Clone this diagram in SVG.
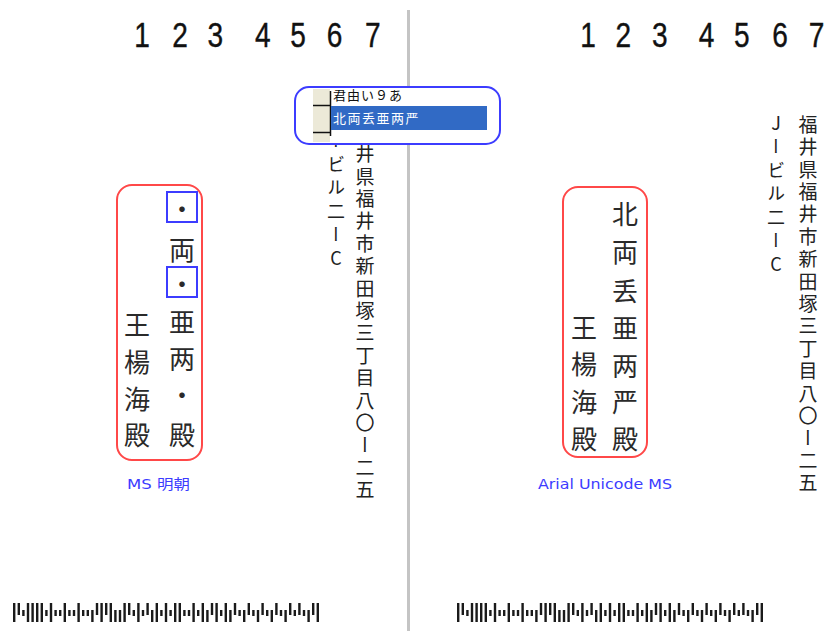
<svg xmlns="http://www.w3.org/2000/svg" xmlns:xlink="http://www.w3.org/1999/xlink" width="834" height="631" viewBox="0 0 834 631">
<style>
.num{font-family:"Liberation Sans",Arial,sans-serif;font-size:36px;fill:#111;stroke:#111;stroke-width:0.4;text-anchor:middle}
.cj{font-family:"Noto Sans CJK JP",sans-serif;font-size:26px;fill:#2a2a2a;text-anchor:middle;dominant-baseline:central}
.addr{font-family:"Noto Sans CJK JP",sans-serif;font-size:19px;fill:#222;writing-mode:vertical-rl;text-orientation:upright;letter-spacing:3.4px}
.addr2{font-family:"Noto Sans CJK JP",sans-serif;font-size:18px;fill:#222;writing-mode:vertical-rl;text-orientation:upright;letter-spacing:5.5px}
.red{fill:none;stroke:#ff4848;stroke-width:2}
.blue{fill:none;stroke:#3c3cff;stroke-width:2}
.pop{fill:#ffffff;stroke:#3c3cff;stroke-width:2}
.lbl{font-family:"DejaVu Sans","Noto Sans CJK JP",sans-serif;font-size:14px;fill:#3c3cff}
.bar{fill:#1a1a1a}
</style>
<defs>
<rect id="F" class="bar" x="0" y="0" width="2.4" height="19"/>
<rect id="A" class="bar" x="0" y="0" width="2.4" height="12"/>
<rect id="D" class="bar" x="0" y="7" width="2.4" height="12"/>
<rect id="T" class="bar" x="0" y="7" width="2.4" height="6"/>
<g id="barcode">
<use href="#F" x="0"/><use href="#A" x="4.6"/><use href="#T" x="9.2"/><use href="#F" x="13.8"/><use href="#F" x="18.4"/><use href="#F" x="23"/><use href="#F" x="27.6"/><use href="#T" x="32.2"/><use href="#F" x="36.8"/><use href="#T" x="41.4"/><use href="#T" x="46"/><use href="#F" x="50.6"/><use href="#T" x="55.2"/><use href="#T" x="59.8"/><use href="#F" x="64.4"/><use href="#T" x="69"/><use href="#T" x="73.6"/><use href="#D" x="78.2"/><use href="#A" x="82.8"/><use href="#F" x="87.4"/><use href="#A" x="92"/><use href="#F" x="96.6"/><use href="#D" x="101.2"/><use href="#D" x="105.8"/><use href="#F" x="110.4"/><use href="#A" x="115"/><use href="#T" x="119.6"/><use href="#F" x="124.2"/><use href="#T" x="128.8"/><use href="#A" x="133.4"/><use href="#D" x="138"/><use href="#F" x="142.6"/><use href="#T" x="147.2"/><use href="#F" x="151.8"/><use href="#T" x="156.4"/><use href="#F" x="161"/><use href="#F" x="165.6"/><use href="#T" x="170.2"/><use href="#T" x="174.8"/><use href="#F" x="179.4"/><use href="#T" x="184"/><use href="#F" x="188.6"/><use href="#D" x="193.2"/><use href="#A" x="197.8"/><use href="#F" x="202.4"/><use href="#T" x="207"/><use href="#F" x="211.6"/><use href="#D" x="216.2"/><use href="#A" x="220.8"/><use href="#T" x="225.4"/><use href="#D" x="230"/><use href="#A" x="234.6"/><use href="#T" x="239.2"/><use href="#D" x="243.8"/><use href="#A" x="248.4"/><use href="#T" x="253"/><use href="#D" x="257.6"/><use href="#A" x="262.2"/><use href="#T" x="266.8"/><use href="#D" x="271.4"/><use href="#A" x="276"/><use href="#T" x="280.6"/><use href="#A" x="285.2"/><use href="#T" x="289.8"/><use href="#D" x="294.4"/><use href="#A" x="299"/><use href="#F" x="303.6"/>
</g>
<clipPath id="popclip"><rect x="331" y="89" width="160" height="16"/></clipPath>
</defs>
<rect x="0" y="0" width="834" height="631" fill="#ffffff"/>
<!-- divider -->
<line x1="408.5" y1="10" x2="408.5" y2="631" stroke="#c4c4c4" stroke-width="3"/>
<!-- top digits -->
<g id="digits-left" transform="scale(0.78,1)">
<text class="num" x="182" y="47">1</text><text class="num" x="231" y="47">2</text><text class="num" x="276" y="47">3</text><text class="num" x="337" y="47">4</text><text class="num" x="382" y="47">5</text><text class="num" x="429" y="47">6</text><text class="num" x="478" y="47">7</text>
</g>
<g id="digits-right" transform="scale(0.78,1)">
<text class="num" x="754" y="47">1</text><text class="num" x="799" y="47">2</text><text class="num" x="846" y="47">3</text><text class="num" x="906" y="47">4</text><text class="num" x="951" y="47">5</text><text class="num" x="1000" y="47">6</text><text class="num" x="1047" y="47">7</text>
</g>
<!-- left address -->
<g id="address-left">
<text class="addr" x="365" y="122">福井県福井市新田塚三丁目八〇ー二五</text>
<text class="addr2" x="336" y="108">Jービル二ーC</text>
</g>
<!-- right address -->
<g id="address-right">
<text class="addr" x="808" y="115">福井県福井市新田塚三丁目八〇ー二五</text>
<text class="addr2" x="776" y="114">Jービル二ーC</text>
</g>
<!-- popup -->
<g id="popup">
<rect x="295" y="87" width="205" height="57" rx="14" class="pop"/>
<rect x="313" y="89" width="17" height="53" fill="#ece9d8"/>
<line x1="330.5" y1="91" x2="330.5" y2="136" stroke="#111" stroke-width="1.5"/>
<line x1="313" y1="105.5" x2="331" y2="105.5" stroke="#111" stroke-width="1.5"/>
<line x1="313" y1="132.5" x2="331" y2="132.5" stroke="#111" stroke-width="1.5"/>
<g clip-path="url(#popclip)"><text x="333" y="100" font-family="'Noto Sans CJK JP',sans-serif" font-size="13" fill="#111" letter-spacing="1">君由い９あ</text></g>
<rect x="331" y="106" width="156" height="24" fill="#316ac5"/>
<text x="333" y="123" font-family="'Noto Sans CJK JP',sans-serif" font-size="13" fill="#ffffff" letter-spacing="1.5">北両丢亜两严</text>
</g>
<!-- left name box -->
<g id="name-left">
<rect x="117" y="185" width="85" height="275" rx="15" class="red"/>
<rect x="167" y="192" width="30" height="30" class="blue"/>
<rect x="167" y="267" width="30" height="30" class="blue"/>
<text class="cj" x="182" y="207">・</text>
<text class="cj" x="182" y="248">両</text>
<text class="cj" x="182" y="282">・</text>
<text class="cj" x="182" y="320">亜</text>
<text class="cj" x="182" y="357">两</text>
<text class="cj" x="182" y="393">・</text>
<text class="cj" x="182" y="433">殿</text>
<text class="cj" x="137" y="323">王</text>
<text class="cj" x="137" y="360">楊</text>
<text class="cj" x="137" y="397">海</text>
<text class="cj" x="137" y="433">殿</text>
<text class="lbl" x="127" y="489" textLength="63" lengthAdjust="spacingAndGlyphs">MS 明朝</text>
</g>
<!-- right name box -->
<g id="name-right">
<rect x="563" y="187" width="84" height="270" rx="15" class="red"/>
<text class="cj" x="625" y="212">北</text>
<text class="cj" x="625" y="250">両</text>
<text class="cj" x="625" y="289">丢</text>
<text class="cj" x="625" y="326">亜</text>
<text class="cj" x="625" y="364">两</text>
<text class="cj" x="625" y="400">严</text>
<text class="cj" x="625" y="437">殿</text>
<text class="cj" x="584" y="326">王</text>
<text class="cj" x="584" y="362">楊</text>
<text class="cj" x="584" y="400">海</text>
<text class="cj" x="584" y="437">殿</text>
<text class="lbl" x="538" y="489" textLength="134" lengthAdjust="spacingAndGlyphs">Arial Unicode MS</text>
</g>
<!-- barcodes -->
<g id="barcodes">
<use href="#barcode" x="13" y="603"/>
<use href="#barcode" x="457" y="603"/>
</g>
</svg>
